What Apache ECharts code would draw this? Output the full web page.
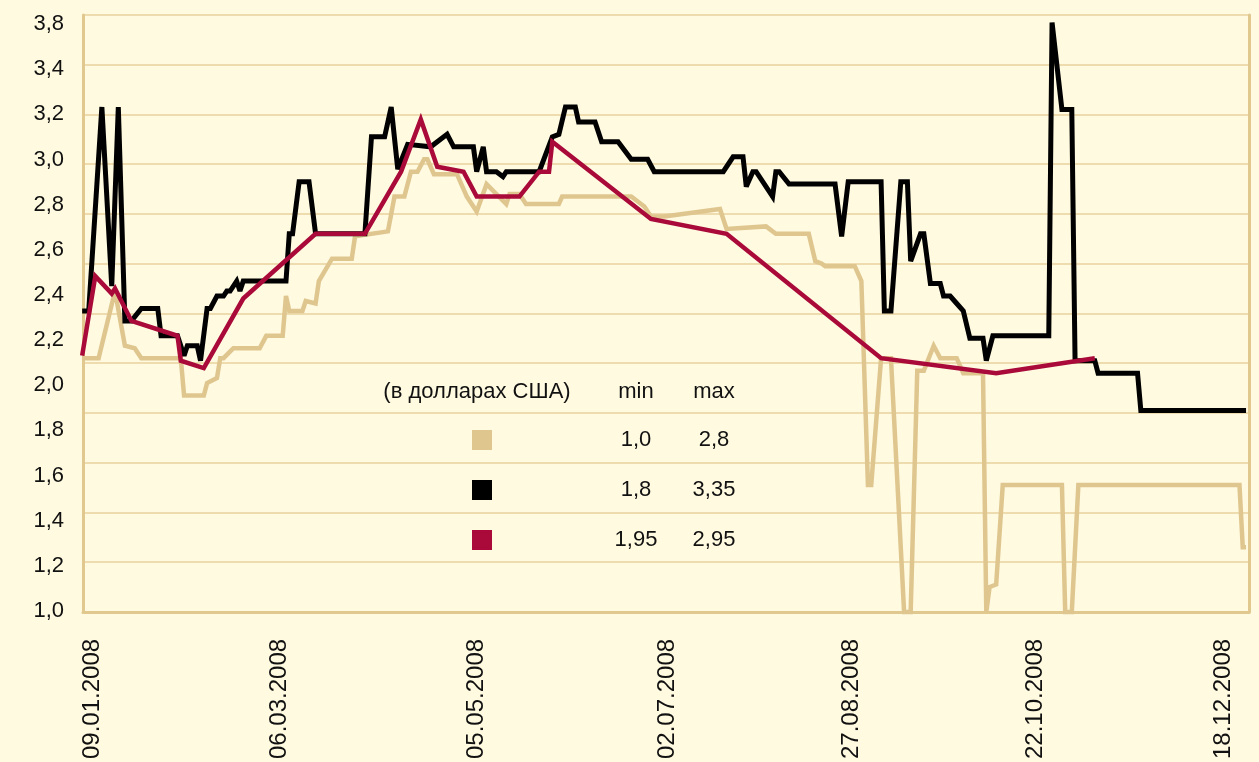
<!DOCTYPE html>
<html>
<head>
<meta charset="utf-8">
<script src="https://cdn.jsdelivr.net/npm/echarts@6/dist/echarts.min.js"></script>
<style>
  html, body { margin: 0; padding: 0; background: #fffae0; }
  #chart { width: 1259px; height: 762px; }
</style>
</head>
<body>
<div id="chart"></div>
<script>
// x values are days of the year 2008 (1 = 01.01.2008)
const blackDay = [6, 8, 12, 15, 17, 19, 21, 24, 29, 30, 35, 37, 38, 41, 42, 44, 45, 47, 49, 50,
  51, 53, 54, 55, 68, 69, 70, 72, 75, 77, 92, 94, 98, 100, 102, 105, 112, 117, 119, 125,
  126, 128, 129, 132, 134, 135, 145, 149, 151, 153, 156, 157, 162, 164, 169, 173, 178, 180, 201, 204,
  207, 208, 210, 211, 216, 217, 218, 221, 235, 237, 239, 249, 250, 252, 255, 257, 258, 261, 262, 264,
  267, 268, 270, 272, 274, 276, 280, 281, 283, 300, 301, 304, 307, 308, 314, 315, 327, 328, 360]
const blackVal = [2.21, 2.21, 3.03, 2.31, 3.03, 2.17, 2.17, 2.22, 2.22, 2.11, 2.11, 2.03, 2.07, 2.07, 2.01, 2.22, 2.22, 2.27, 2.27, 2.29,
  2.29, 2.33, 2.29, 2.33, 2.33, 2.52, 2.52, 2.73, 2.73, 2.52, 2.52, 2.91, 2.91, 3.03, 2.78, 2.88, 2.87, 2.92, 2.87, 2.87,
  2.77, 2.87, 2.77, 2.77, 2.75, 2.77, 2.77, 2.91, 2.92, 3.03, 3.03, 2.97, 2.97, 2.89, 2.89, 2.82, 2.82, 2.77, 2.77, 2.83,
  2.83, 2.71, 2.77, 2.77, 2.67, 2.77, 2.77, 2.72, 2.72, 2.51, 2.73, 2.73, 2.21, 2.21, 2.73, 2.73, 2.41, 2.52, 2.52, 2.32,
  2.32, 2.27, 2.27, 2.24, 2.21, 2.10, 2.10, 2.01, 2.11, 2.11, 3.37, 3.02, 3.02, 2.01, 2.01, 1.96, 1.96, 1.81, 1.81]

const redDay = [6, 10, 15, 16, 21, 35, 36, 43, 55, 77, 92, 103, 109, 114, 122, 126, 139, 145, 148, 149, 179, 202, 249, 284, 314]
const redVal = [2.03, 2.35, 2.28, 2.30, 2.17, 2.11, 2.01, 1.98, 2.26, 2.52, 2.52, 2.77, 2.98, 2.79, 2.77, 2.67, 2.67, 2.77, 2.77, 2.89, 2.58, 2.52, 2.02, 1.96, 2.02]

const beigeDay = [6, 11, 16, 19, 22, 24, 36, 37, 43, 44, 47, 48, 49, 52, 60, 62, 67, 68, 69, 73,
  74, 77, 78, 82, 88, 89, 99, 101, 104, 106, 108, 110, 111, 113, 120, 123, 126, 129, 135, 136,
  139, 141, 151, 152, 173, 177, 179, 183, 200, 202, 214, 217, 227, 229, 231, 232, 241, 243, 245, 246,
  249, 252, 256, 258, 260, 262, 265, 267, 272, 274, 280, 281, 282, 284, 286, 304, 305, 307, 309, 358, 359, 360]
const beigeVal = [2.02, 2.02, 2.29, 2.07, 2.06, 2.02, 2.02, 1.87, 1.87, 1.92, 1.94, 2.02, 2.02, 2.06, 2.06, 2.11, 2.11, 2.27, 2.21, 2.21,
  2.25, 2.24, 2.33, 2.42, 2.42, 2.51, 2.53, 2.67, 2.67, 2.77, 2.77, 2.82, 2.82, 2.76, 2.76, 2.67, 2.61, 2.72, 2.64, 2.68,
  2.68, 2.64, 2.64, 2.67, 2.67, 2.63, 2.59, 2.59, 2.62, 2.54, 2.55, 2.52, 2.52, 2.41, 2.40, 2.39, 2.39, 2.33, 1.51, 1.51,
  2.02, 2.02, 1.0, 1.0, 1.97, 1.97, 2.07, 2.02, 2.02, 1.96, 1.96, 1.0, 1.10, 1.11, 1.51, 1.51, 1.0, 1.0, 1.51, 1.51, 1.26, 1.26]

// tick labels as printed on the original (left side is not aligned with the grid)
const yTickLabels = ['1,0', '1,2', '1,4', '1,6', '1,8', '2,0', '2,2', '2,4', '2,6', '2,8', '3,0', '3,2', '3,4', '3,8']
const dateTickDays = [9, 66, 126, 184, 240, 296, 353]

// min / max table
const tableHeader = ['(в долларах США)', 'min', 'max']
const tableMin = ['1,0', '1,8', '1,95']
const tableMax = ['2,8', '3,35', '2,95']

const FONT = '"Liberation Sans", Arial, Helvetica, sans-serif'
const colors = ['#dfc68f', '#000000', '#a90a3a']
const gridColor = '#e8d09e'
const axisColor = '#e0c88f'

function zip (days, vals) {
  return days.map((d, i) => [d, vals[i]])
}

function dayToDate (d) {
  const dt = new Date(Date.UTC(2008, 0, d))
  const dd = String(dt.getUTCDate()).padStart(2, '0')
  const mm = String(dt.getUTCMonth() + 1).padStart(2, '0')
  return dd + '.' + mm + '.2008'
}

function lineSeries (name, days, vals, color, width) {
  return {
    name: name,
    type: 'line',
    xAxisIndex: 0,
    yAxisIndex: 0,
    data: zip(days, vals),
    showSymbol: false,
    symbol: 'none',
    clip: false,
    animation: false,
    lineStyle: { color: color, width: width, join: 'miter', miterLimit: 3 }
  }
}

function tableGraphics () {
  const items = []
  const txt = (s, x, y) => ({
    type: 'text', x: x, y: y,
    style: { text: s, fill: '#111', font: '22px ' + FONT, align: 'center', verticalAlign: 'middle' }
  })
  items.push(txt(tableHeader[0], 477, 392))
  items.push(txt(tableHeader[1], 636, 392))
  items.push(txt(tableHeader[2], 714, 392))
  for (let i = 0; i < tableMin.length; i++) {
    const y = 440 + i * 50
    items.push({ type: 'rect', shape: { x: 472, y: y - 10, width: 20, height: 20 }, style: { fill: colors[i] } })
    items.push(txt(tableMin[i], 636, y))
    items.push(txt(tableMax[i], 714, y))
  }
  return items
}

const chart = echarts.init(document.getElementById('chart'))
chart.setOption({
  backgroundColor: '#fffae0',
  animation: false,
  grid: [
    { left: 83, right: 10, top: 15, bottom: 147 },
    { left: 83, right: 10, top: 24, bottom: 151 }
  ],
  xAxis: [
    {
      type: 'value',
      gridIndex: 0,
      min: 6.26,
      max: 360.9,
      splitLine: { show: false },
      axisTick: { show: false },
      axisLine: { show: true, lineStyle: { color: axisColor, width: 3 } },
      axisLabel: {
        customValues: dateTickDays,
        rotate: 90,
        margin: 27,
        color: '#111',
        fontSize: 24,
        fontFamily: FONT,
        formatter: v => dayToDate(Math.round(v))
      }
    },
    { type: 'value', gridIndex: 1, show: false, min: 0, max: 1 }
  ],
  yAxis: [
    {
      type: 'value',
      gridIndex: 0,
      min: 1.0,
      max: 3.4,
      interval: 0.2,
      axisLabel: { show: false },
      axisTick: { show: false },
      axisLine: { show: true, lineStyle: { color: axisColor, width: 3 } },
      splitLine: { show: true, lineStyle: { color: gridColor, width: 1.5 } }
    },
    {
      type: 'value',
      gridIndex: 0,
      position: 'right',
      min: 1.0,
      max: 3.4,
      axisLabel: { show: false },
      axisTick: { show: false },
      splitLine: { show: false },
      axisLine: { show: true, lineStyle: { color: axisColor, width: 3 } }
    },
    {
      type: 'category',
      gridIndex: 1,
      data: yTickLabels,
      boundaryGap: false,
      axisLine: { show: false },
      axisTick: { show: false },
      splitLine: { show: false },
      axisLabel: { margin: 19, color: '#111', fontSize: 22, fontFamily: FONT }
    }
  ],
  series: [
    lineSeries('beige', beigeDay, beigeVal, colors[0], 4.5),
    lineSeries('black', blackDay, blackVal, colors[1], 5),
    lineSeries('red', redDay, redVal, colors[2], 4.5)
  ],
  graphic: tableGraphics()
})
</script>
</body>
</html>
